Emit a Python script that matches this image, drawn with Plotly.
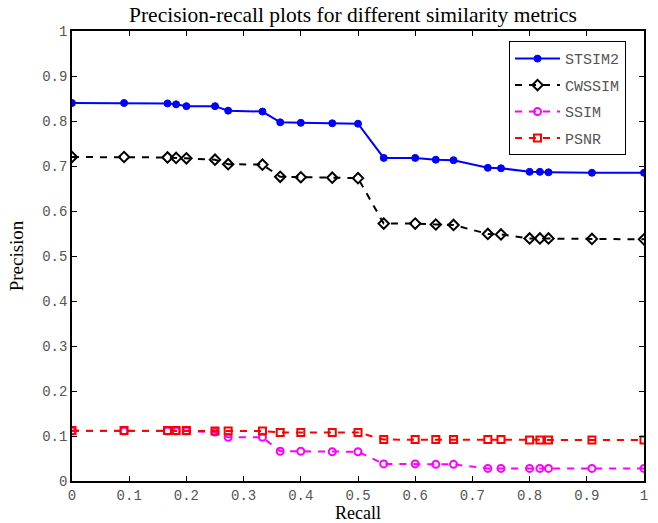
import plotly.graph_objects as go

recall = [0.0, 0.091, 0.167, 0.182, 0.2, 0.25, 0.273, 0.333, 0.364, 0.4, 0.455, 0.5,
          0.545, 0.6, 0.636, 0.667, 0.727, 0.75, 0.8, 0.818, 0.833, 0.909, 1.0]

stsim2 = [0.840, 0.840, 0.839, 0.837, 0.833, 0.833, 0.823, 0.821, 0.797, 0.796, 0.795, 0.794,
          0.718, 0.718, 0.714, 0.713, 0.696, 0.695, 0.687, 0.687, 0.686, 0.685, 0.685]
cwssim = [0.720, 0.720, 0.719, 0.718, 0.717, 0.714, 0.704, 0.703, 0.676, 0.675, 0.674, 0.673,
          0.572, 0.572, 0.570, 0.569, 0.549, 0.548, 0.539, 0.539, 0.539, 0.538, 0.537]
ssim = [0.111, 0.111, 0.111, 0.111, 0.111, 0.109, 0.097, 0.097, 0.066, 0.066, 0.065, 0.065,
        0.038, 0.038, 0.037, 0.037, 0.028, 0.028, 0.028, 0.028, 0.028, 0.028, 0.028]
psnr = [0.112, 0.112, 0.112, 0.112, 0.112, 0.111, 0.111, 0.111, 0.108, 0.108, 0.108, 0.108,
        0.092, 0.092, 0.092, 0.092, 0.092, 0.092, 0.091, 0.091, 0.091, 0.091, 0.091]

ticks = [0, 0.1, 0.2, 0.3, 0.4, 0.5, 0.6, 0.7, 0.8, 0.9, 1]
tick_text = ["0", "0.1", "0.2", "0.3", "0.4", "0.5", "0.6", "0.7", "0.8", "0.9", "1"]

series = [
    ("STSIM2", stsim2, "#0000ff", "solid", "circle", 7),
    ("CWSSIM", cwssim, "#000000", "dash", "diamond-open", 8),
    ("SSIM", ssim, "#ff00ff", "dash", "circle-open", 7),
    ("PSNR", psnr, "#ff0000", "dash", "square-open", 7),
]

fig = go.Figure()
for name, vals, color, dash, sym, msize in series:
    fig.add_trace(go.Scatter(
        x=recall, y=vals, name=name, mode="lines+markers",
        line=dict(color=color, width=2, dash="7px,7px" if dash == "dash" else "solid"),
        marker=dict(symbol=sym, size=msize, color=color,
                    line=dict(color=color, width=2 if sym != "circle" else 1)),
        legendgroup=name,
    ))

axis_common = dict(
    range=[0, 1], tickvals=ticks, ticktext=tick_text, ticks="inside", ticklen=5,
    tickwidth=1, tickcolor="#000", showline=True, linecolor="#000", linewidth=1.5,
    mirror="ticks", showgrid=False, zeroline=False, automargin=False,
    tickfont=dict(family="Liberation Mono", size=14, color="#555555"),
)

fig.update_layout(
    width=658, height=523,
    margin=dict(l=72, r=14, t=31, b=42),
    paper_bgcolor="white", plot_bgcolor="white",
    title=dict(text="Precision-recall plots for different similarity metrics",
               x=353 / 658, xanchor="center", y=1 - 14 / 523, yanchor="middle",
               font=dict(family="Liberation Serif", size=21.5, color="#000")),
    xaxis=dict(axis_common,
               title=dict(text="Recall", standoff=0,
                          font=dict(family="Liberation Serif", size=18, color="#000"))),
    yaxis=dict(axis_common,
               title=dict(text="Precision", standoff=14,
                          font=dict(family="Liberation Serif", size=19, color="#000"))),
    legend=dict(x=0.764, y=0.977, xanchor="left", yanchor="top",
                bgcolor="white", bordercolor="#000", borderwidth=1,
                font=dict(family="Liberation Mono", size=15, color="#555555"),
                traceorder="grouped", tracegroupgap=4, itemwidth=45),
    showlegend=True,
)

fig.write_html("out.html", config={"displayModeBar": False},
               post_script="document.body.style.margin='0';document.body.style.overflow='hidden';")
